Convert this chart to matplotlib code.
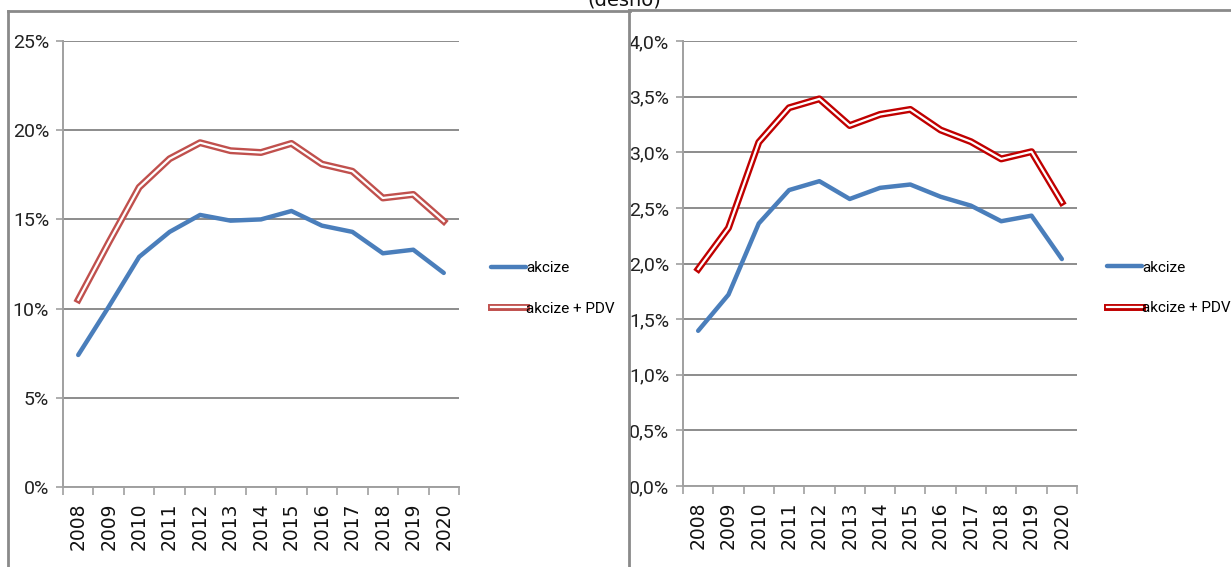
import matplotlib
matplotlib.use("Agg")
import matplotlib.pyplot as plt
import matplotlib.patheffects as pe
from matplotlib.lines import Line2D
from matplotlib.ticker import FixedLocator, FuncFormatter

years = ["2008", "2009", "2010", "2011", "2012", "2013", "2014",
         "2015", "2016", "2017", "2018", "2019", "2020"]

left_akcize = [7.4, 10.1, 12.9, 14.3, 15.25, 14.93, 15.0, 15.47, 14.65, 14.3, 13.1, 13.3, 12.0]
left_akcize_pdv = [10.5, 13.7, 16.8, 18.4, 19.3, 18.85, 18.75, 19.26, 18.1, 17.7, 16.2, 16.4, 14.9]

right_akcize = [1.395, 1.72, 2.36, 2.66, 2.74, 2.58, 2.68, 2.71, 2.60, 2.52, 2.38, 2.43, 2.04]
right_akcize_pdv = [1.95, 2.32, 3.09, 3.40, 3.48, 3.24, 3.34, 3.385, 3.20, 3.095, 2.94, 3.005, 2.55]

left_ticks = [0, 5, 10, 15, 20, 25]
right_ticks = [0.0, 0.5, 1.0, 1.5, 2.0, 2.5, 3.0, 3.5, 4.0]

W, H = 1231, 567
fig = plt.figure(figsize=(W / 100, H / 100), dpi=100)

narrow = ["Roboto", "DejaVu Sans"]
grid_c = "#8c8c8c"
blue = "#4A7EBB"


def px_axes(x0, y0, x1, y1):
    return fig.add_axes([x0 / W, 1 - y1 / H, (x1 - x0) / W, (y1 - y0) / H])


def style(ax, ticks, fmt, ymax):
    n = len(years)
    x = list(range(n))
    ax.set_xlim(-0.5, n - 0.5)
    ax.set_ylim(0, ymax)
    ax.yaxis.set_major_locator(FixedLocator(ticks))
    ax.yaxis.set_major_formatter(FuncFormatter(fmt))
    ax.grid(axis="y", color=grid_c, linewidth=1.4)
    ax.set_axisbelow(True)
    for s in ["top", "right"]:
        ax.spines[s].set_visible(False)
    for s in ["left", "bottom"]:
        ax.spines[s].set_color("#a0a0a0")
        ax.spines[s].set_linewidth(1.4)
    ax.set_xticks(x)
    ax.set_xticklabels(years, rotation=90, fontsize=13.5, color="#111111",
                       family="DejaVu Sans")
    ax.set_xticks([i - 0.5 for i in range(n + 1)], minor=True)
    ax.tick_params(axis="x", which="major", length=0, pad=11)
    ax.tick_params(axis="x", which="minor", length=6, color="#a0a0a0", width=1.2)
    ax.tick_params(axis="y", length=5, color="#a0a0a0", width=1.2, pad=5)
    for lab in ax.get_yticklabels():
        lab.set_family(narrow)
        lab.set_fontsize(14)
        lab.set_color("#222222")
    return x


axL = px_axes(63, 41, 459, 487)
xL = style(axL, left_ticks, lambda v, p: f"{int(v)}%", 25)
axL.plot(xL, left_akcize, color=blue, linewidth=3.2, solid_capstyle="round",
         label="akcize")
axL.plot(xL, left_akcize_pdv, color="white", linewidth=1.6, label="akcize + PDV",
         path_effects=[pe.Stroke(linewidth=5, foreground="#C0504D"), pe.Normal()])

axR = px_axes(683, 41, 1077, 486)
xR = style(axR, right_ticks, lambda v, p: f"{v:.1f}%".replace(".", ","), 4.0)
axR.plot(xR, right_akcize, color=blue, linewidth=3.2, solid_capstyle="round",
         label="akcize")
axR.plot(xR, right_akcize_pdv, color="white", linewidth=1.6, label="akcize + PDV",
         path_effects=[pe.Stroke(linewidth=5, foreground="#C00000"), pe.Normal()])

for ax, lx, x0, w in [(axL, 485, 63, 396), (axR, 1101, 683, 394)]:
    ax.legend(loc="upper left",
              bbox_to_anchor=((lx - x0) / w, 1 - (255 - 41) / 446),
              frameon=False, handlelength=2.3, handletextpad=0.0,
              labelspacing=1.75, borderaxespad=0,
              prop={"family": narrow, "size": 11})

# panel borders
bc = "#8a8a8a"
fig.add_artist(Line2D([8 / W, 8 / W], [0, 1 - 11 / H], transform=fig.transFigure, color=bc, lw=2))
fig.add_artist(Line2D([8 / W, 630 / W], [1 - 11 / H, 1 - 11 / H], transform=fig.transFigure, color=bc, lw=2))
fig.add_artist(Line2D([629 / W, 629 / W], [0, 1 - 10 / H], transform=fig.transFigure, color=bc, lw=2))
fig.add_artist(Line2D([629 / W, 1], [1 - 10 / H, 1 - 10 / H], transform=fig.transFigure, color=bc, lw=2))

fig.text(624 / W, 1 - 5.5 / H, "(desno)", ha="center", va="baseline", fontsize=14,
         family="DejaVu Sans", color="#111111")

fig.savefig("out.png", dpi=100)
